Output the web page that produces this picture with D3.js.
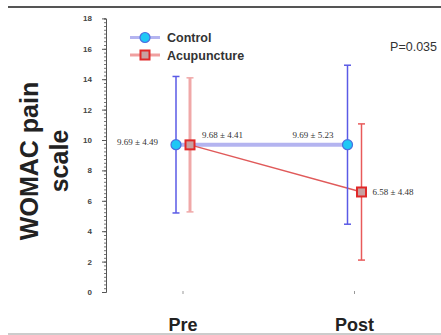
<!DOCTYPE html>
<html>
<head>
<meta charset="utf-8">
<script src="https://cdn.jsdelivr.net/npm/d3@7"></script>
<style>
  body { margin: 0; background: #fff; }
  svg { display: block; }
</style>
</head>
<body>
<svg id="chart" width="441" height="335"></svg>
<script>
// data
var timepoints = ["Pre", "Post"];
var controlMean = [9.69, 9.69];
var controlSD = [4.49, 5.23];
var acupMean = [9.68, 6.58];
var acupSD = [4.41, 4.48];
var controlLabels = ["9.69 \u00b1 4.49", "9.69 \u00b1 5.23"];
var acupLabels = ["9.68 \u00b1 4.41", "6.58 \u00b1 4.48"];
var yTicks = [0, 2, 4, 6, 8, 10, 12, 14, 16, 18];

var svg = d3.select("#chart");

var y = d3.scaleLinear().domain([0, 18]).range([292, 18.4]);
var x = d3.scalePoint().domain(timepoints).range([183, 354.5]);
var offset = 7;
var sans = "Liberation Sans, Arial, sans-serif";

// frame lines
svg.append("line").attr("x1", 8).attr("x2", 441).attr("y1", 7).attr("y2", 7)
    .attr("stroke", "#555").attr("stroke-width", 2);
svg.append("line").attr("x1", 8).attr("x2", 441).attr("y1", 334).attr("y2", 334)
    .attr("stroke", "#999").attr("stroke-width", 1);

// y axis with dense minor ticks
var axisG = svg.append("g").attr("transform", "translate(106,0)");
axisG.call(d3.axisLeft(y).tickValues(d3.range(0, 18.01, 0.25)).tickSize(2).tickFormat(""))
    .call(function (g) { g.select(".domain").attr("stroke", "#555"); })
    .call(function (g) { g.selectAll(".tick line").attr("stroke", "#777"); });
axisG.append("g")
    .call(d3.axisLeft(y).tickValues(yTicks).tickSize(4).tickPadding(10))
    .call(function (g) { g.select(".domain").remove(); })
    .call(function (g) { g.selectAll(".tick line").attr("stroke", "#555"); })
    .call(function (g) {
        g.selectAll(".tick text").attr("font-family", sans)
            .attr("font-size", 8).attr("font-weight", "bold").attr("fill", "#444");
    });

// x ticks and labels
svg.selectAll(".xtick").data(timepoints).enter().append("line")
    .attr("x1", function (d) { return x(d); }).attr("x2", function (d) { return x(d); })
    .attr("y1", y(0) - 1).attr("y2", y(0) + 2).attr("stroke", "#999");
svg.selectAll(".xlab").data(timepoints).enter().append("text")
    .attr("x", function (d) { return x(d); }).attr("y", 331)
    .attr("text-anchor", "middle")
    .attr("font-family", sans)
    .attr("font-size", 18).attr("font-weight", "bold").attr("fill", "#222")
    .text(function (d) { return d; });

// y title
var yt = svg.append("text").attr("transform", "translate(38,161) rotate(-90)")
    .attr("text-anchor", "middle")
    .attr("font-family", sans)
    .attr("font-size", 25).attr("font-weight", "bold").attr("fill", "#222");
yt.append("tspan").attr("x", 0).attr("dy", 0).text("WOMAC pain");
yt.append("tspan").attr("x", 0).attr("dy", 30).text("scale");

// connecting lines
var ctrlLine = d3.line().x(function (d, i) { return x(timepoints[i]) - offset; }).y(function (d) { return y(d); });
var acupLine = d3.line().x(function (d, i) { return x(timepoints[i]) + offset; }).y(function (d) { return y(d); });
svg.append("path").attr("d", ctrlLine(controlMean)).attr("fill", "none")
    .attr("stroke", "#b4b4f0").attr("stroke-width", 4);
svg.append("path").attr("d", acupLine(acupMean)).attr("fill", "none")
    .attr("stroke", "#e05a5a").attr("stroke-width", 1.5);

// error bars
function errorBars(means, sds, dx, colors, widths) {
    timepoints.forEach(function (t, i) {
        var cx = x(t) + dx;
        var g = svg.append("g").attr("stroke", colors[i]).attr("stroke-width", widths[i]);
        g.append("line").attr("x1", cx).attr("x2", cx)
            .attr("y1", y(means[i] + sds[i])).attr("y2", y(means[i] - sds[i]));
        [means[i] + sds[i], means[i] - sds[i]].forEach(function (v) {
            g.append("line").attr("x1", cx - 3.5).attr("x2", cx + 3.5)
                .attr("y1", y(v)).attr("y2", y(v)).attr("stroke-width", 1.5);
        });
    });
}
errorBars(controlMean, controlSD, -offset, ["#5a5ae6", "#5a5ae6"], [1.5, 1.5]);
errorBars(acupMean, acupSD, offset, ["#f0a8a8", "#e85a5a"], [3, 1.5]);

// markers
svg.selectAll(".cmark").data(controlMean).enter().append("circle")
    .attr("cx", function (d, i) { return x(timepoints[i]) - offset; })
    .attr("cy", function (d) { return y(d); })
    .attr("r", 5).attr("fill", "#1ec8f5").attr("stroke", "#4a6ee0").attr("stroke-width", 1.2);
svg.selectAll(".amark").data(acupMean).enter().append("rect")
    .attr("x", function (d, i) { return x(timepoints[i]) + offset - 4.5; })
    .attr("y", function (d) { return y(d) - 4.5; })
    .attr("width", 9).attr("height", 9)
    .attr("fill", "#c8a0a0").attr("stroke", "#e02828").attr("stroke-width", 2);

// value labels
var lblFont = "Liberation Serif, Times New Roman, serif";
svg.append("text").attr("x", x("Pre") - offset - 18).attr("y", y(controlMean[0]) + 0.5)
    .attr("text-anchor", "end").attr("font-family", lblFont).attr("font-size", 9)
    .attr("fill", "#333").text(controlLabels[0]);
svg.append("text").attr("x", x("Pre") + offset + 12).attr("y", y(acupMean[0]) - 6.5)
    .attr("font-family", lblFont).attr("font-size", 9).attr("fill", "#333").text(acupLabels[0]);
svg.append("text").attr("x", x("Post") - offset - 14).attr("y", y(controlMean[1]) - 6.5)
    .attr("text-anchor", "end").attr("font-family", lblFont).attr("font-size", 9)
    .attr("fill", "#333").text(controlLabels[1]);
svg.append("text").attr("x", x("Post") + offset + 11).attr("y", y(acupMean[1]) + 3.5)
    .attr("font-family", lblFont).attr("font-size", 9).attr("fill", "#333").text(acupLabels[1]);

// P value
svg.append("text").attr("x", 437).attr("y", 51).attr("text-anchor", "end")
    .attr("font-family", sans).attr("font-size", 12.5)
    .attr("fill", "#333").text("P=0.035");

// legend
var legend = svg.append("g");
legend.append("line").attr("x1", 130).attr("x2", 160).attr("y1", 37.5).attr("y2", 37.5)
    .attr("stroke", "#b4b4f0").attr("stroke-width", 3);
legend.append("circle").attr("cx", 145).attr("cy", 37.5).attr("r", 5)
    .attr("fill", "#1ec8f5").attr("stroke", "#4a6ee0").attr("stroke-width", 1.2);
legend.append("line").attr("x1", 130).attr("x2", 160).attr("y1", 55).attr("y2", 55)
    .attr("stroke", "#f0a0a0").attr("stroke-width", 3);
legend.append("rect").attr("x", 140.5).attr("y", 50.5).attr("width", 9).attr("height", 9)
    .attr("fill", "#c8a0a0").attr("stroke", "#e02828").attr("stroke-width", 2);
legend.append("text").attr("x", 167).attr("y", 41.5)
    .attr("font-family", sans).attr("font-size", 12.5)
    .attr("font-weight", "bold").attr("fill", "#333").text("Control");
legend.append("text").attr("x", 167).attr("y", 59.5)
    .attr("font-family", sans).attr("font-size", 12.5)
    .attr("font-weight", "bold").attr("fill", "#333").text("Acupuncture");
</script>
</body>
</html>
